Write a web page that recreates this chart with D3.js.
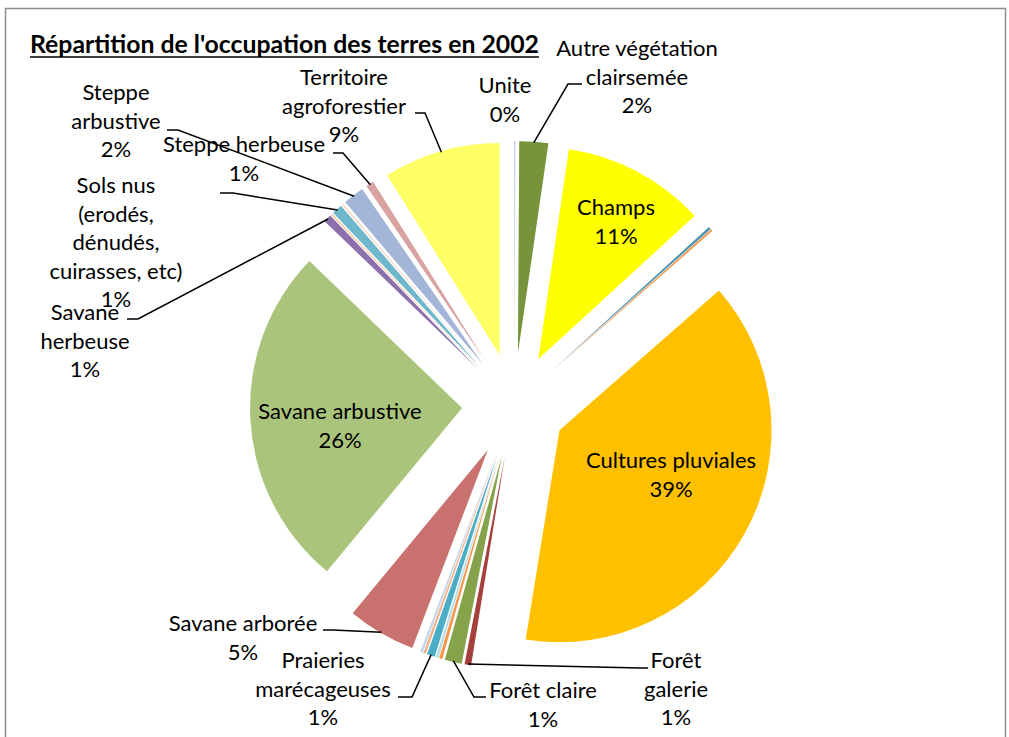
<!DOCTYPE html>
<html>
<head>
<meta charset="utf-8">
<script src="https://cdn.jsdelivr.net/npm/d3@7"></script>
<style>
  body { margin: 0; background: #fff; }
  svg text { font-family: Lato, 'Open Sans', sans-serif; fill: #000; }
</style>
</head>
<body>
<svg id="chart"></svg>
<script>
// slices clockwise from 12 o'clock; null name = tiny unlabelled slice
const categories = [
  'Unite', 'Autre végétation clairsemée', 'Champs', null, null,
  'Cultures pluviales', 'Forêt galerie', 'Forêt claire', null, null,
  'Praieries marécageuses', null, null, 'Savane arborée', 'Savane arbustive',
  'Savane herbeuse', null, 'Sols nus (erodés, dénudés, cuirasses, etc)', null,
  'Steppe arbustive', null, 'Steppe herbeuse', 'Territoire agroforestier'
];
const values = [
  0.1, 2.2, 10.9, 0.2, 0.15,
  39.0, 0.5, 1.3, 0.25, 0.2,
  0.6, 0.2, 0.2, 5.2, 26.2,
  0.6, 0.1, 0.8, 0.1,
  1.6, 0.1, 0.6, 8.9
];
const colors = [
  '#c3cce4', '#77933c', '#ffff00', '#4f93b3', '#f79646',
  '#ffc000', '#a5403d', '#84a34a', '#f79646', '#b7dde8',
  '#4bacc6', '#f2b28a', '#c5d6ea', '#c8716f', '#aac47c',
  '#8b70ab', '#fac090', '#6fb7cd', '#f7d0b5',
  '#a3b6d8', '#ffffff', '#d9a3a2', '#ffff66'
];

const titleText = "Répartition de l'occupation des terres en 2002";

// hand placed label boxes (like the original, dragged by hand)
const labelLayout = {
  'Unite': {x: 505, y: 93, lines: ['Unite']},
  'Autre végétation clairsemée': {x: 637, y: 56, lines: ['Autre végétation', 'clairsemée'], leader: [582, 84, 568]},
  'Champs': {x: 616, y: 215, lines: ['Champs']},
  'Cultures pluviales': {x: 671, y: 468, lines: ['Cultures pluviales']},
  'Forêt galerie': {x: 676, y: 668, lines: ['Forêt', 'galerie'], leader: [648, 668, 640]},
  'Forêt claire': {x: 543, y: 698, lines: ['Forêt claire'], leader: [486, 697, 474]},
  'Praieries marécageuses': {x: 323, y: 668, lines: ['Praieries', 'marécageuses'], leader: [398, 697, 412]},
  'Savane arborée': {x: 243, y: 631, lines: ['Savane arborée'], leader: [323, 630, 333]},
  'Savane arbustive': {x: 340, y: 419, lines: ['Savane arbustive']},
  'Savane herbeuse': {x: 85, y: 320, lines: ['Savane', 'herbeuse'], leader: [127, 319, 138]},
  'Sols nus (erodés, dénudés, cuirasses, etc)': {x: 116, y: 193, lines: ['Sols nus', '(erodés,', 'dénudés,', 'cuirasses, etc)'], leader: [220, 193, 233]},
  'Steppe arbustive': {x: 116, y: 100, lines: ['Steppe', 'arbustive'], leader: [167, 130, 178]},
  'Steppe herbeuse': {x: 244, y: 152, lines: ['Steppe herbeuse'], leader: [333, 153, 343]},
  'Territoire agroforestier': {x: 344, y: 85, lines: ['Territoire', 'agroforestier'], leader: [415, 113, 425]}
};

class ExplodedPie {
  constructor(_config) {
    this.config = {
      parentElement: _config.parentElement,
      containerWidth: _config.containerWidth || 1009,
      containerHeight: _config.containerHeight || 737,
      cx: _config.cx || 514,
      cy: _config.cy || 405,
      radius: _config.radius || 212,
      explode: _config.explode || 52,
      fontSize: _config.fontSize || 22,
      lineHeight: _config.lineHeight || 28.6
    };
    this.data = categories.map((c, i) => ({name: c, value: values[i], color: colors[i]}));
    this.initVis();
  }

  initVis() {
    let vis = this;

    vis.svg = d3.select(vis.config.parentElement)
        .attr('width', vis.config.containerWidth)
        .attr('height', vis.config.containerHeight);

    // chart area frame
    vis.svg.append('rect')
        .attr('x', 5.5)
        .attr('y', 8.5)
        .attr('width', 1000)
        .attr('height', 760)
        .attr('fill', 'none')
        .attr('stroke', '#8c8c8c')
        .attr('stroke-width', 1.5);

    vis.chart = vis.svg.append('g')
        .attr('transform', `translate(${vis.config.cx},${vis.config.cy})`);

    vis.pie = d3.pie().sort(null).value(d => d.value);
    vis.arc = d3.arc().innerRadius(0).outerRadius(vis.config.radius);

    vis.total = d3.sum(vis.data, d => d.value);
    vis.renderVis();
  }

  renderVis() {
    let vis = this;
    const R = vis.config.radius, ex = vis.config.explode;
    const mid = d => (d.startAngle + d.endAngle) / 2;
    const arcs = vis.pie(vis.data);

    vis.chart.selectAll('.slice')
        .data(arcs)
      .join('path')
        .attr('class', 'slice')
        .attr('d', vis.arc)
        .attr('fill', d => d.data.color)
        .attr('transform', d => `translate(${ex * Math.sin(mid(d))},${-ex * Math.cos(mid(d))})`);

    const labelled = arcs.filter(d => d.data.name && labelLayout[d.data.name]);

    // leader lines: stub from the label, then to the rim of the slice
    vis.svg.selectAll('.leader')
        .data(labelled.filter(d => labelLayout[d.data.name].leader))
      .join('polyline')
        .attr('class', 'leader')
        .attr('fill', 'none')
        .attr('stroke', '#000')
        .attr('stroke-width', 1.5)
        .attr('points', d => {
          const [x0, y0, x1] = labelLayout[d.data.name].leader;
          const r = R + ex - 1;
          const ax = vis.config.cx + r * Math.sin(mid(d));
          const ay = vis.config.cy - r * Math.cos(mid(d));
          return `${x0},${y0} ${x1},${y0} ${ax},${ay}`;
        });

    const pct = d => Math.round(d.data.value / vis.total * 100) + '%';

    const labels = vis.svg.selectAll('.slice-label')
        .data(labelled)
      .join('text')
        .attr('class', 'slice-label')
        .attr('text-anchor', 'middle')
        .style('font-size', vis.config.fontSize + 'px');

    labels.selectAll('tspan')
        .data(d => {
          const L = labelLayout[d.data.name];
          return L.lines.concat([pct(d)]).map((t, i) => ({t, x: L.x, y: L.y + i * vis.config.lineHeight}));
        })
      .join('tspan')
        .attr('x', t => t.x)
        .attr('y', t => t.y)
        .text(t => t.t);

    // title, bold and underlined
    const title = vis.svg.append('text')
        .attr('x', 30)
        .attr('y', 53)
        .style('font-size', '24.8px')
        .style('font-weight', 'bold')
        .text(titleText);
    const tw = title.node().getComputedTextLength();
    vis.svg.append('line')
        .attr('x1', 30).attr('x2', 30 + tw)
        .attr('y1', 57).attr('y2', 57)
        .attr('stroke', '#000')
        .attr('stroke-width', 1.5);
  }
}

new ExplodedPie({parentElement: '#chart'});
</script>
</body>
</html>
